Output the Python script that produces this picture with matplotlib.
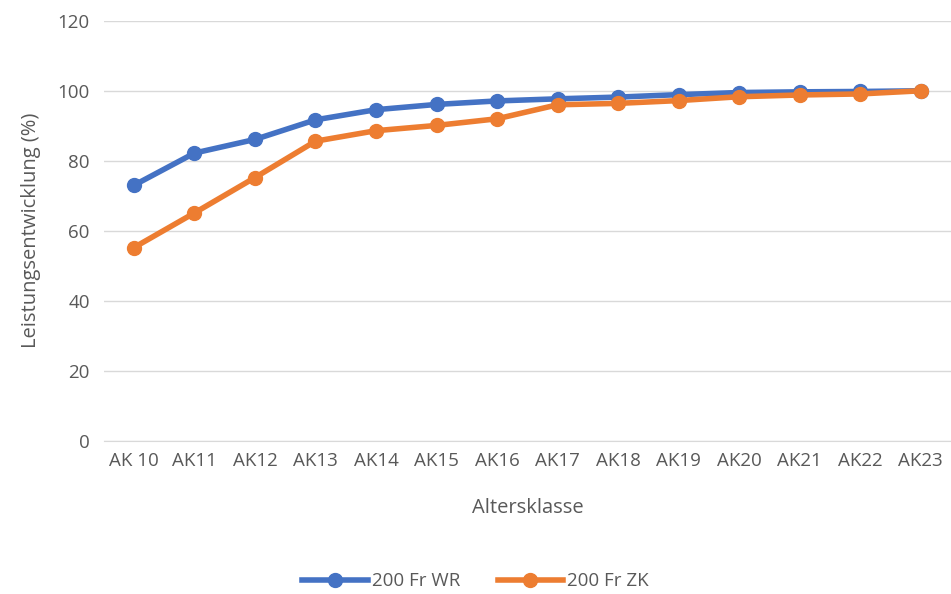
import matplotlib.pyplot as plt
import numpy as np

plt.rcParams['font.family'] = ['Open Sans', 'DejaVu Sans']

categories = ['AK 10', 'AK11', 'AK12', 'AK13', 'AK14', 'AK15', 'AK16',
              'AK17', 'AK18', 'AK19', 'AK20', 'AK21', 'AK22', 'AK23']
wr = [73.0, 82.2, 86.1, 91.7, 94.6, 96.1, 97.1, 97.7, 98.2, 98.9, 99.5, 99.7, 99.8, 100.0]
zk = [55.2, 65.1, 75.2, 85.6, 88.6, 90.1, 92.0, 96.0, 96.4, 97.2, 98.3, 98.8, 99.1, 100.0]

text_col = '#595959'

fig = plt.figure(figsize=(9.51, 5.94), dpi=100)
ax = fig.add_axes([0.109, 0.258, 0.891, 0.707])

x = np.arange(len(categories))
ax.plot(x, wr, color='#4472c4', lw=4, marker='o', ms=10, label='200 Fr WR', zorder=3)
ax.plot(x, zk, color='#ed7d31', lw=4, marker='o', ms=10, label='200 Fr ZK', zorder=4)

ax.set_xlim(-0.5, len(categories) - 0.5)
ax.set_ylim(0, 120)
ax.set_yticks(range(0, 121, 20))
ax.set_xticks(x)
ax.set_xticklabels(categories)
ax.grid(axis='y', color='#d9d9d9', lw=1)
ax.set_axisbelow(True)
for s in ['top', 'right', 'left']:
    ax.spines[s].set_visible(False)
ax.spines['bottom'].set_color('#d9d9d9')
ax.tick_params(length=0, labelsize=13.5, colors=text_col, pad=8)
ax.tick_params(axis='y', pad=10)

ax.set_xlabel('Altersklasse', fontsize=14.5, color=text_col, labelpad=20)
ax.set_ylabel('Leistungsentwicklung (%)', fontsize=14.5, color=text_col, labelpad=12)

fig.legend(loc='lower center', bbox_to_anchor=(0.5, -0.022), ncol=2, frameon=False,
           fontsize=13.5, labelcolor=text_col, handlelength=3.5, handletextpad=0.2,
           columnspacing=2.0)

fig.savefig('out.png', dpi=100)
